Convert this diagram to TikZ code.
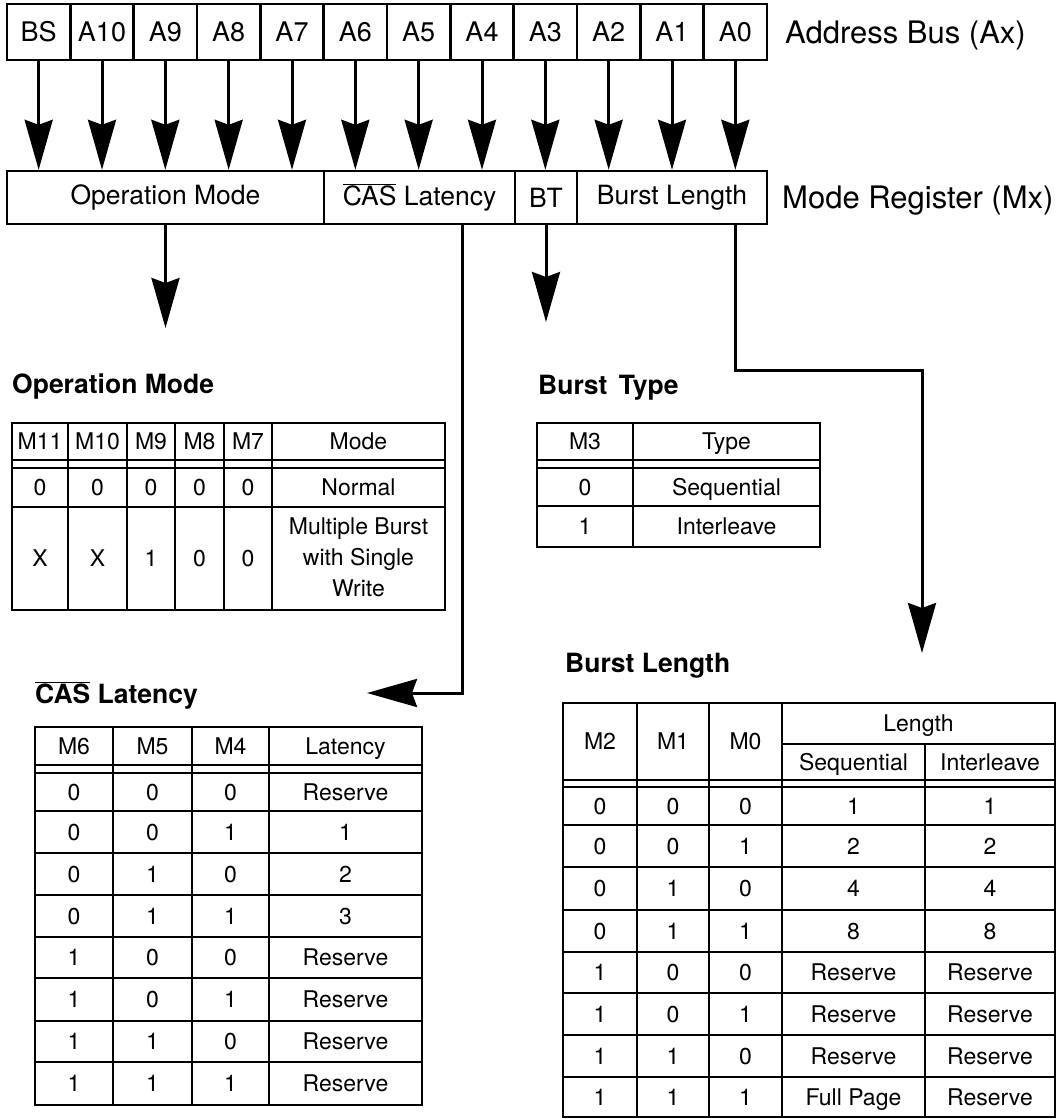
\documentclass[tikz,border=0pt]{standalone}
\usepackage{fontspec}
\setmainfont{TeX Gyre Heros}
\usetikzlibrary{arrows.meta}
\newcommand\ovlbar[1]{\ensuremath{\overline{\mbox{#1}}}}
\tikzset{
  arr/.style={line width=3pt, -{Stealth[length=50pt,width=28pt,inset=5pt]}},
  buscell/.style={draw, line width=2.4pt, minimum width=63.333pt, minimum height=56pt, inner sep=0pt,
                  font=\fontsize{27}{31}\selectfont},
  regcell/.style={draw, line width=2.4pt, minimum height=53pt, inner sep=0pt,
                  font=\fontsize{26.5}{31}\selectfont},
  lbl/.style={inner sep=0pt, font=\fontsize{31}{36}\selectfont},
  ttl/.style={inner sep=0pt, anchor=base west, font=\fontsize{26.5}{31}\bfseries\selectfont},
  tbl/.style={line width=2pt},
  tt/.style={inner sep=0pt, text height=16.5pt, text depth=0pt, anchor=center,
             font=\fontsize{23}{27}\selectfont},
  ttm/.style={inner sep=0pt, align=center, anchor=center,
             font=\fontsize{23}{31}\selectfont}
}
\begin{document}
\begin{tikzpicture}[x=1pt,y=-1pt]
\fill[white] (0,0) rectangle (1057,1119);
\useasboundingbox (0,0) rectangle (1057,1119);

% ---------- address bus ----------
\foreach \lab [count=\i from 0] in {BS,A10,A9,A8,A7,A6,A5,A4,A3,A2,A1,A0}
  \node[buscell] (bus\i) at ({7+63.333*(\i+0.5)},32) {\lab};
\node[lbl, anchor=base west] (addrlbl) at (785,43) {Address Bus (Ax)};

% ---------- mode register ----------
\node[regcell, minimum width=317pt] (regOM)  at (165.5,197.5) {Operation Mode};
\node[regcell, minimum width=191pt] (regCAS) at (419.5,197.5) {\ovlbar{CAS} Latency};
\node[regcell, minimum width=62pt]  (regBT)  at (546,197.5)   {BT};
\node[regcell, minimum width=190pt] (regBL)  at (672,197.5)   {Burst Length};
\node[lbl, anchor=base west] (modelbl) at (782,208.5) {Mode Register (Mx)};

\foreach \i in {0,...,11}
  \draw[arr] (bus\i.south) -- (bus\i.south |- regOM.north);

% ---------- connectors from the register ----------
\coordinate (omTip)  at (165.5,328);
\coordinate (btTip)  at (546,322);
\coordinate (casTip) at (367,693);
\coordinate (blBend) at (922,370);
\coordinate (blTip)  at (922,653);
\draw[arr] (regOM.south) -- (omTip);
\draw[arr] (regBT.south) -- (btTip);
\draw[arr] ([xshift=42.5pt]regCAS.south) |- (casTip);
\draw[arr] ([xshift=63pt]regBL.south) |- (blBend) -- (blTip);

% ---------- Operation Mode table ----------
\node[ttl] (omttl) at (12,393) {Operation Mode};
\draw[tbl] (12,423) rectangle (445,610);
\foreach \x in {68,127,175,224,272} \draw[tbl] (\x,423) -- (\x,610);
\foreach \y in {460,468,507} \draw[tbl] (12,\y) -- (445,\y);
\foreach \x/\t [count=\c] in {40/M11,97.5/M10,151/M9,199.5/M8,248/M7,358.5/Mode}
  \node[tt] (omh\c) at (\x,441.5) {\t};
\foreach \x/\t [count=\c] in {40/0,97.5/0,151/0,199.5/0,248/0,358.5/Normal}
  \node[tt] (oma\c) at (\x,487.5) {\t};
\foreach \x/\t [count=\c] in {40/X,97.5/X,151/1,199.5/0,248/0}
  \node[tt] (omb\c) at (\x,558.5) {\t};
\node[ttm] (omb6) at (358.5,557) {Multiple Burst\\with Single\\Write};

% ---------- Burst Type table ----------
\node[ttl] (btttl) at (538,394) {Burst\hspace{4pt} Type};
\draw[tbl] (537,423) rectangle (820,547);
\draw[tbl] (633,423) -- (633,547);
\foreach \y in {460,468,506} \draw[tbl] (537,\y) -- (820,\y);
\foreach \y/\a/\b [count=\r] in {441.5/M3/Type,487/0/Sequential,526.5/1/Interleave}{
  \node[tt] (bt\r-1) at (585,\y) {\a};
  \node[tt] (bt\r-2) at (726.5,\y) {\b};
}

% ---------- CAS Latency table ----------
\node[ttl] (casttl) at (35,703) {\ovlbar{CAS} Latency};
\draw[tbl] (35,727) rectangle (422,1105);
\foreach \x in {113,192,269} \draw[tbl] (\x,727) -- (\x,1105);
\foreach \y in {765,773,811,853,895,937,978,1021,1062} \draw[tbl] (35,\y) -- (422,\y);
\foreach \y/\a/\b/\c/\d [count=\r] in {746/M6/M5/M4/Latency,
   792/0/0/0/Reserve, 832/0/0/1/1, 874/0/1/0/2, 916/0/1/1/3,
   957.5/1/0/0/Reserve, 999.5/1/0/1/Reserve, 1041.5/1/1/0/Reserve, 1083.5/1/1/1/Reserve}{
  \node[tt] (cl\r-1) at (74,\y) {\a};
  \node[tt] (cl\r-2) at (152.5,\y) {\b};
  \node[tt] (cl\r-3) at (230.5,\y) {\c};
  \node[tt] (cl\r-4) at (345.5,\y) {\d};
}

% ---------- Burst Length table ----------
\node[ttl] (blttl) at (565,672) {Burst Length};
\draw[tbl] (563,703) rectangle (1055,1117);
\foreach \x in {637,709,782} \draw[tbl] (\x,703) -- (\x,1117);
\draw[tbl] (925,744) -- (925,1117);
\draw[tbl] (782,744) -- (1055,744);
\foreach \y in {780,787,825,867,910,952,993,1035,1077} \draw[tbl] (563,\y) -- (1055,\y);
\node[tt] (blh1) at (600,741.5) {M2};
\node[tt] (blh2) at (673,741.5) {M1};
\node[tt] (blh3) at (745.5,741.5) {M0};
\node[tt] (blh4) at (918.5,723.5) {Length};
\node[tt] (blh5) at (853.5,762) {Sequential};
\node[tt] (blh6) at (990,762) {Interleave};
\foreach \y/\a/\b/\c/\d/\e [count=\r] in {806/0/0/0/1/1, 846/0/0/1/2/2, 888.5/0/1/0/4/4, 931/0/1/1/8/8,
   972.5/1/0/0/Reserve/Reserve, 1014/1/0/1/Reserve/Reserve, 1056/1/1/0/Reserve/Reserve,
   1097/1/1/1/Full Page/Reserve}{
  \node[tt] (bl\r-1) at (600,\y) {\a};
  \node[tt] (bl\r-2) at (673,\y) {\b};
  \node[tt] (bl\r-3) at (745.5,\y) {\c};
  \node[tt] (bl\r-4) at (853.5,\y) {\d};
  \node[tt] (bl\r-5) at (990,\y) {\e};
}
\end{tikzpicture}
\end{document}
